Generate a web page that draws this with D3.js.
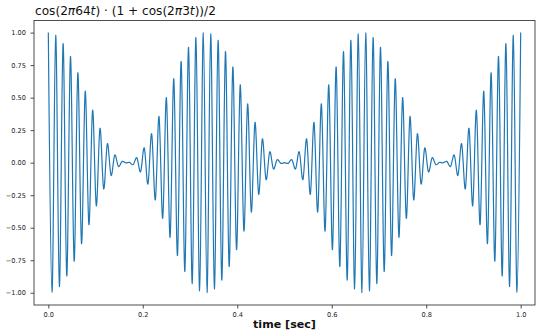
<!DOCTYPE html>
<html>
<head>
<meta charset="utf-8">
<script src="https://cdn.jsdelivr.net/npm/d3@7"></script>
<style>
  body { margin: 0; background: #fff; }
  svg { display: block; }
  text { font-family: "DejaVu Sans", sans-serif; }
</style>
</head>
<body>
<div class="canvas"></div>
<script>
const canvasWidth = 540;
const canvasHeight = 336;
const margin = { top: 20.5, left: 34, bottom: 31, right: 5 };
const graphWidth = canvasWidth - margin.left - margin.right;
const graphHeight = canvasHeight - margin.top - margin.bottom;

// extrema of the 64 Hz carrier, one every 1/128 s
const peakTimes = d3.range(129).map(k => k / 128);
const peakValues = [
   1.000, -0.995,  0.979, -0.952,  0.916, -0.871,  0.817, -0.757,
   0.691, -0.622,  0.549, -0.476,  0.403, -0.332,  0.264, -0.202,
   0.146, -0.098,  0.059, -0.029,  0.010, -0.001,  0.002, -0.015,
   0.038, -0.071,  0.114, -0.164,  0.222, -0.286,  0.355, -0.427,
   0.500, -0.573,  0.645, -0.714,  0.778, -0.836,  0.887, -0.929,
   0.962, -0.985,  0.998, -0.999,  0.990, -0.971,  0.941, -0.902,
   0.854, -0.798,  0.736, -0.668,  0.598, -0.525,  0.451, -0.379,
   0.309, -0.243,  0.183, -0.130,  0.084, -0.048,  0.022, -0.005,
   0.000, -0.005,  0.022, -0.048,  0.084, -0.130,  0.183, -0.243,
   0.309, -0.379,  0.451, -0.525,  0.598, -0.668,  0.736, -0.798,
   0.854, -0.902,  0.941, -0.971,  0.990, -0.999,  0.998, -0.985,
   0.962, -0.929,  0.887, -0.836,  0.778, -0.714,  0.645, -0.573,
   0.500, -0.427,  0.355, -0.286,  0.222, -0.164,  0.114, -0.071,
   0.038, -0.015,  0.002, -0.001,  0.010, -0.029,  0.059, -0.098,
   0.146, -0.202,  0.264, -0.332,  0.403, -0.476,  0.549, -0.622,
   0.691, -0.757,  0.817, -0.871,  0.916, -0.952,  0.979, -0.995,
   1.000
];
const xTicks = [0, 0.2, 0.4, 0.6, 0.8, 1.0];
const yTicks = [-1, -0.75, -0.5, -0.25, 0, 0.25, 0.5, 0.75, 1];

const data = peakTimes.map((t, i) => ({ t: t, v: peakValues[i] }));

const svg = d3.select('.canvas')
	.append('svg')
	.attr('width', canvasWidth)
	.attr('height', canvasHeight);

const graph = svg.append('g')
	.attr('transform', `translate(${margin.left},${margin.top})`);

const x = d3.scaleLinear()
	.domain([-0.0303, 1.0303])
	.range([0, graphWidth]);

const y = d3.scaleLinear()
	.domain([-1.094, 1.093])
	.range([graphHeight, 0]);

const line = d3.line()
	.x(d => x(d.t))
	.y(d => y(d.v))
	.curve(d3.curveCatmullRom.alpha(0));

graph.append('path')
	.datum(data)
	.attr('fill', 'none')
	.attr('stroke', '#1f77b4')
	.attr('stroke-width', 1.2)
	.attr('d', line);

// frame
graph.append('rect')
	.attr('width', graphWidth)
	.attr('height', graphHeight)
	.attr('fill', 'none')
	.attr('stroke', '#222')
	.attr('stroke-width', 0.8);

const fmtMinus = s => s.replace('-', '\u2212');

const xAxisGroup = graph.append('g')
	.attr('transform', `translate(0,${graphHeight})`)
	.call(d3.axisBottom(x).tickValues(xTicks).tickSize(3.5).tickPadding(3.6)
		.tickFormat(d => d3.format('.1f')(d)));

const yAxisGroup = graph.append('g')
	.call(d3.axisLeft(y).tickValues(yTicks).tickSize(3.5).tickPadding(4.5)
		.tickFormat(d => fmtMinus(d3.format('.2f')(d))));

[xAxisGroup, yAxisGroup].forEach(g => {
	g.select('.domain').remove();
	g.selectAll('line').attr('stroke', '#222').attr('stroke-width', 0.8);
	g.selectAll('text')
		.attr('fill', '#222')
		.attr('font-family', '"DejaVu Sans", sans-serif')
		.attr('font-size', '6.6px');
});

// x label
svg.append('text')
	.attr('x', margin.left + graphWidth / 2)
	.attr('y', 328)
	.attr('text-anchor', 'middle')
	.attr('font-weight', 'bold')
	.attr('font-size', '11.1px')
	.attr('fill', '#111')
	.text('time [sec]');

// title, mathtext style: italic pi and t
const title = svg.append('text')
	.attr('x', 35)
	.attr('y', 14.8)
	.attr('font-size', '12.5px')
	.attr('fill', '#111');

const parts = [
	['cos(2', false], ['\u03c0', true], ['64', false], ['t', true],
	[') \u00b7 (1 + cos(2', false], ['\u03c0', true], ['3', false], ['t', true],
	['))/2', false]
];
parts.forEach(p => {
	title.append('tspan')
		.attr('font-style', p[1] ? 'italic' : 'normal')
		.text(p[0]);
});
// scale font so the title spans the same width as in the reference
const natural = title.node().getComputedTextLength();
title.attr('font-size', (12.5 * 181 / natural).toFixed(2) + 'px');
</script>
</body>
</html>
